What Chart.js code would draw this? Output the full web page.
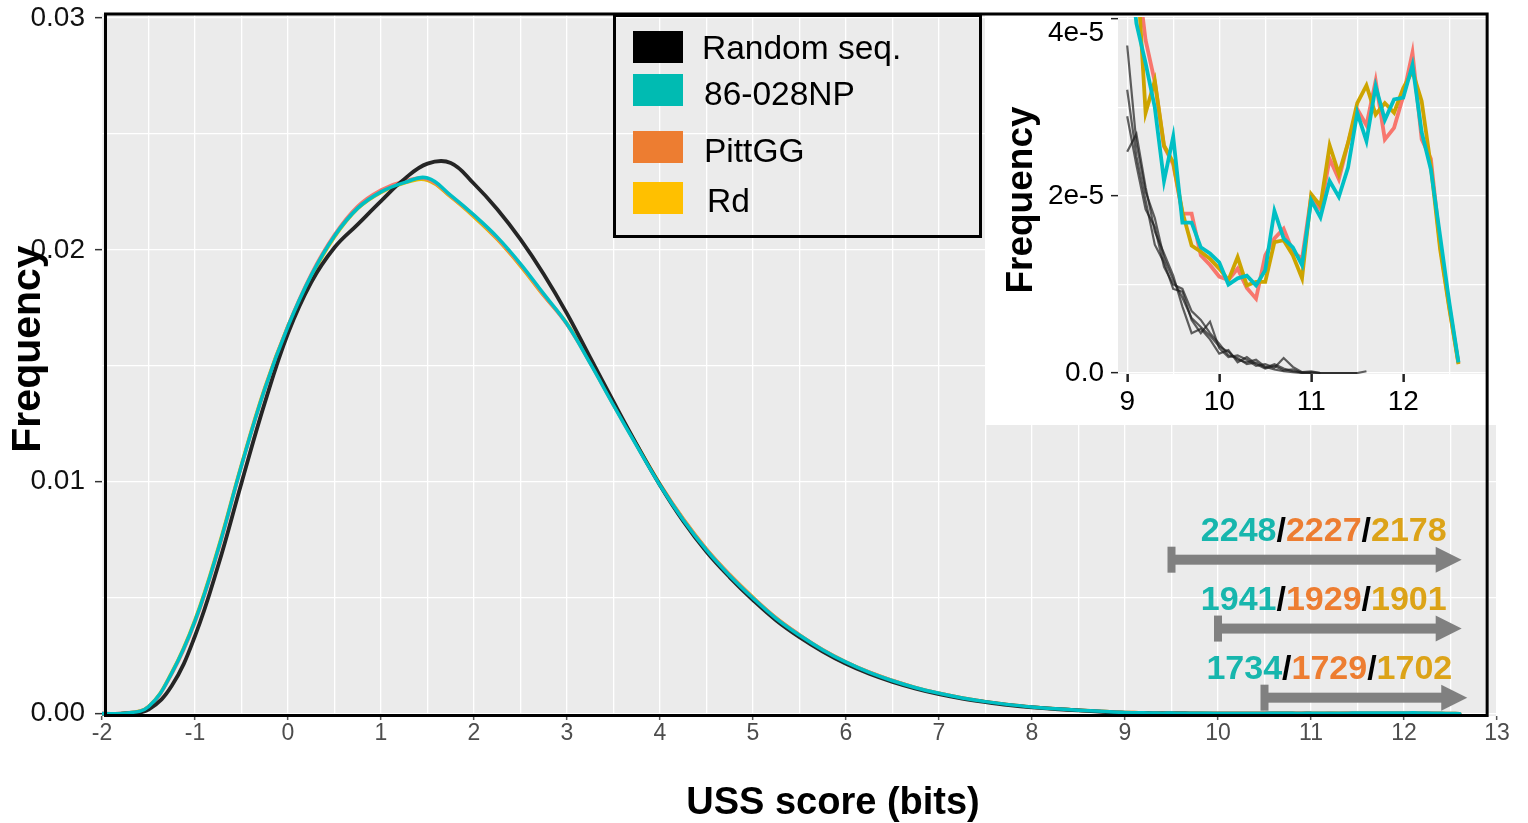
<!DOCTYPE html>
<html>
<head>
<meta charset="utf-8">
<script src="https://cdn.jsdelivr.net/npm/chart.js@4.4.1/dist/chart.umd.min.js"></script>
<style>
  html, body { margin: 0; padding: 0; background: #ffffff; }
  #wrap { position: relative; width: 1528px; height: 823px; overflow: hidden; }
  #main { position: absolute; left: 0; top: 0; }
  #inset { position: absolute; left: 985px; top: 0; }
</style>
</head>
<body>
<div id="wrap">
  <canvas id="main" width="1528" height="823"></canvas>
  <canvas id="inset" width="512" height="425"></canvas>
</div>
<script>
// ---------------- data ----------------
// USS score grid for the full distribution (bits)
const SCORE_X = [-2, -1.75, -1.5, -1.25, -1, -0.75, -0.5, -0.25, 0, 0.25, 0.5, 0.75, 1, 1.25, 1.5, 1.75,
  2, 2.25, 2.5, 2.75, 3, 3.25, 3.5, 3.75, 4, 4.25, 4.5, 4.75, 5, 5.25, 5.5, 5.75, 6, 6.25, 6.5, 6.75,
  7, 7.25, 7.5, 7.75, 8, 8.25, 8.5, 8.75];

const RANDOM_FREQ = [0, 0.00001, 0.00018, 0.00120, 0.00335, 0.00640, 0.00995, 0.01340, 0.01640, 0.01860,
  0.02010, 0.02110, 0.02210, 0.02305, 0.02372, 0.02375, 0.02285, 0.02175, 0.02045, 0.01895, 0.01725,
  0.01535, 0.01345, 0.01160, 0.00985, 0.00830, 0.00698, 0.00588, 0.00490, 0.00402, 0.00330, 0.00268,
  0.00215, 0.00172, 0.00137, 0.00108, 0.00084, 0.00065, 0.00050, 0.00037, 0.00027, 0.00020, 0.00014, 0.00008];

const NP_FREQ = [0, 0.00002, 0.00030, 0.00175, 0.00400, 0.00710, 0.01070, 0.01400, 0.01670, 0.01890,
  0.02060, 0.02180, 0.02250, 0.02290, 0.02310, 0.02235, 0.02150, 0.02055, 0.01940, 0.01810, 0.01680,
  0.01510, 0.01330, 0.01155, 0.00985, 0.00835, 0.00705, 0.00595, 0.00498, 0.00410, 0.00338, 0.00275,
  0.00222, 0.00178, 0.00142, 0.00112, 0.00088, 0.00068, 0.00052, 0.00039, 0.00029, 0.00021, 0.00015, 0.00010];

const PITT_FREQ = [0, 0.00002, 0.00029, 0.00172, 0.00395, 0.00705, 0.01068, 0.01400, 0.01672, 0.01895,
  0.02065, 0.02188, 0.02258, 0.02296, 0.02305, 0.02232, 0.02148, 0.02050, 0.01935, 0.01805, 0.01678,
  0.01512, 0.01332, 0.01158, 0.00988, 0.00838, 0.00708, 0.00598, 0.00500, 0.00412, 0.00340, 0.00276,
  0.00223, 0.00179, 0.00143, 0.00112, 0.00088, 0.00068, 0.00052, 0.00039, 0.00029, 0.00021, 0.00015, 0.00010];

const RD_FREQ = [0, 0.00002, 0.00031, 0.00178, 0.00405, 0.00716, 0.01075, 0.01405, 0.01672, 0.01885,
  0.02055, 0.02178, 0.02248, 0.02288, 0.02300, 0.02228, 0.02142, 0.02045, 0.01930, 0.01802, 0.01682,
  0.01515, 0.01335, 0.01160, 0.00990, 0.00840, 0.00710, 0.00600, 0.00502, 0.00413, 0.00340, 0.00276,
  0.00223, 0.00179, 0.00143, 0.00112, 0.00088, 0.00068, 0.00052, 0.00039, 0.00029, 0.00021, 0.00015, 0.00010];

// high-score tail, 0.1-bit bins
const TAIL_X = [9.0, 9.1, 9.2, 9.3, 9.4, 9.5, 9.6, 9.7, 9.8, 9.9, 10.0, 10.1, 10.2, 10.3, 10.4, 10.5,
  10.6, 10.7, 10.8, 10.9, 11.0, 11.1, 11.2, 11.3, 11.4, 11.5, 11.6, 11.7, 11.8, 11.9, 12.0, 12.1,
  12.2, 12.3, 12.4, 12.5, 12.6];

const NP_TAIL = [4.90e-5, 3.95e-5, 3.50e-5, 3.00e-5, 2.17e-5, 2.67e-5, 1.70e-5, 1.70e-5, 1.42e-5, 1.35e-5,
  1.25e-5, 1.00e-5, 1.07e-5, 1.10e-5, 0.99e-5, 1.16e-5, 1.83e-5, 1.52e-5, 1.42e-5, 1.22e-5, 1.95e-5,
  1.76e-5, 2.17e-5, 1.99e-5, 2.32e-5, 2.94e-5, 2.62e-5, 3.24e-5, 2.86e-5, 3.09e-5, 3.11e-5, 3.48e-5,
  2.72e-5, 2.30e-5, 1.55e-5, 0.80e-5, 0.12e-5];

const PITT_TAIL = [5.60e-5, 4.60e-5, 3.76e-5, 3.29e-5, 2.56e-5, 2.36e-5, 1.80e-5, 1.80e-5, 1.33e-5, 1.22e-5,
  1.09e-5, 1.05e-5, 1.18e-5, 0.96e-5, 0.84e-5, 1.33e-5, 1.52e-5, 1.63e-5, 1.37e-5, 1.29e-5, 2.00e-5,
  1.85e-5, 2.42e-5, 2.19e-5, 2.60e-5, 2.98e-5, 2.80e-5, 3.30e-5, 2.64e-5, 2.77e-5, 3.13e-5, 3.62e-5,
  2.64e-5, 2.42e-5, 1.45e-5, 0.75e-5, 0.11e-5];

const RD_TAIL = [5.50e-5, 4.70e-5, 2.94e-5, 3.30e-5, 2.57e-5, 2.38e-5, 1.82e-5, 1.44e-5, 1.37e-5, 1.29e-5,
  1.18e-5, 1.05e-5, 1.31e-5, 0.99e-5, 1.03e-5, 1.03e-5, 1.48e-5, 1.50e-5, 1.33e-5, 1.07e-5, 2.02e-5,
  1.89e-5, 2.57e-5, 2.25e-5, 2.60e-5, 3.05e-5, 3.25e-5, 2.92e-5, 3.05e-5, 2.94e-5, 3.22e-5, 3.41e-5,
  3.07e-5, 2.34e-5, 1.40e-5, 0.73e-5, 0.10e-5];

// four random-sequence replicates in the tail
const RANDOM_TAIL_A = [3.70e-5, 2.60e-5, 2.05e-5, 1.75e-5, 1.30e-5, 1.05e-5, 0.85e-5, 0.62e-5, 0.52e-5, 0.42e-5,
  0.30e-5, 0.24e-5, 0.15e-5, 0.12e-5, 0.15e-5, 0.07e-5, 0.04e-5, 0.02e-5, 0.01e-5, 0, 0];
const RANDOM_TAIL_B = [3.20e-5, 2.45e-5, 1.95e-5, 1.45e-5, 1.25e-5, 0.95e-5, 0.92e-5, 0.60e-5, 0.45e-5, 0.58e-5,
  0.28e-5, 0.18e-5, 0.20e-5, 0.15e-5, 0.08e-5, 0.10e-5, 0.06e-5, 0.17e-5, 0.07e-5, 0.01e-5, 0.02e-5, 0];
const RANDOM_TAIL_C = [2.50e-5, 2.70e-5, 2.10e-5, 1.60e-5, 1.35e-5, 1.10e-5, 0.75e-5, 0.45e-5, 0.50e-5, 0.38e-5,
  0.22e-5, 0.26e-5, 0.12e-5, 0.18e-5, 0.10e-5, 0.05e-5, 0.08e-5, 0.03e-5, 0.04e-5, 0, 0.01e-5, 0, 0, 0, 0, 0];
const RANDOM_TAIL_D = [2.90e-5, 2.35e-5, 1.85e-5, 1.65e-5, 1.20e-5, 1.00e-5, 0.95e-5, 0.70e-5, 0.60e-5, 0.45e-5,
  0.33e-5, 0.20e-5, 0.17e-5, 0.10e-5, 0.12e-5, 0.06e-5, 0.10e-5, 0.05e-5, 0.02e-5, 0.01e-5, 0, 0, 0, 0, 0, 0, 0.02e-5];

// high-scoring site counts (86-028NP / PittGG / Rd) above each score cut-off
const CUTOFF_SCORE = [9.5, 10.0, 10.5];
const NP_COUNTS = [2248, 1941, 1734];
const PITT_COUNTS = [2227, 1929, 1729];
const RD_COUNTS = [2178, 1901, 1702];

// axes
const X_GRID = [-2, -1.5, -1, -0.5, 0, 0.5, 1, 1.5, 2, 2.5, 3, 3.5, 4, 4.5, 5, 5.5, 6, 6.5, 7, 7.5, 8, 8.5,
  9, 9.5, 10, 10.5, 11, 11.5, 12, 12.5, 13];
const X_TICKS = [-2, -1, 0, 1, 2, 3, 4, 5, 6, 7, 8, 9, 10, 11, 12, 13];
const Y_GRID = [0, 0.005, 0.01, 0.015, 0.02, 0.025, 0.03];
const Y_TICKS = [0, 0.01, 0.02, 0.03];
const Y_TICK_LABELS = ['0.00', '0.01', '0.02', '0.03'];

const INSET_X_GRID = [9, 9.5, 10, 10.5, 11, 11.5, 12, 12.5];
const INSET_X_TICKS = [9, 10, 11, 12];
const INSET_Y_GRID = [0, 1e-5, 2e-5, 3e-5, 4e-5];
const INSET_Y_TICKS = [0, 2e-5, 4e-5];
const INSET_Y_TICK_LABELS = ['0.0', '2e-5', '4e-5'];

const LEGEND_LABELS = ['Random seq.', '86-028NP', 'PittGG', 'Rd'];
const LEGEND_COLORS = ['#000000', '#00BBB2', '#ED7D31', '#FFC000'];

// ---------------- styles ----------------
const FONT = "'Liberation Sans', Arial, Helvetica, sans-serif";
Chart.defaults.font.family = FONT;
const PANEL = '#EBEBEB';
const TEAL = '#00BFC4';
const SALMON = '#F8766D';
const GOLD = '#CDA400';
const ARROW_GREY = '#808080';
const COUNT_COLORS = ['#17B6AD', '#ED7D31', '#DCA318'];

const pts = (xs, ys) => ys.map((y, i) => ({ x: xs[i], y: y }));
const fullSeries = (core, tail) => pts(SCORE_X, core).concat(pts(TAIL_X, tail));

// ---------------- main chart ----------------
const mainDecor = {
  id: 'mainDecor',
  beforeDraw(chart) {
    const { ctx, chartArea: a } = chart;
    ctx.save();
    ctx.fillStyle = '#ffffff';
    ctx.fillRect(0, 0, chart.width, chart.height);
    ctx.fillStyle = PANEL;
    ctx.fillRect(a.left, a.top, a.right - a.left, a.bottom - a.top);
    ctx.restore();
  },
  afterDatasetsDraw(chart) {
    const { ctx, chartArea: a, scales: { x, y } } = chart;
    ctx.save();

    // cut-off arrows with counts
    const tips = [12.62, 12.62, 12.68];
    const rows = [0.00664, 0.00367, 0.00069];
    CUTOFF_SCORE.forEach((s, i) => {
      const x0 = x.getPixelForValue(s);
      const x1 = x.getPixelForValue(tips[i]);
      const yy = y.getPixelForValue(rows[i]);
      ctx.fillStyle = ARROW_GREY;
      ctx.fillRect(x0 - 4, yy - 13, 8, 26);
      ctx.fillRect(x0, yy - 5, x1 - 25 - x0, 10);
      ctx.beginPath();
      ctx.moveTo(x1 - 26, yy - 13);
      ctx.lineTo(x1, yy);
      ctx.lineTo(x1 - 26, yy + 13);
      ctx.closePath();
      ctx.fill();

      const parts = [
        [String(NP_COUNTS[i]), COUNT_COLORS[0]], ['/', '#000000'],
        [String(PITT_COUNTS[i]), COUNT_COLORS[1]], ['/', '#000000'],
        [String(RD_COUNTS[i]), COUNT_COLORS[2]]
      ];
      ctx.font = 'bold 34px ' + FONT;
      ctx.textBaseline = 'alphabetic';
      ctx.textAlign = 'left';
      const total = parts.reduce((w, p) => w + ctx.measureText(p[0]).width, 0);
      let tx = x1 - 15 - total;
      const base = yy - 31 + 12;
      parts.forEach(p => {
        ctx.fillStyle = p[1];
        ctx.fillText(p[0], tx, base);
        tx += ctx.measureText(p[0]).width;
      });
    });

    // legend box
    ctx.lineWidth = 3;
    ctx.strokeStyle = '#000000';
    ctx.strokeRect(614.5, 15.5, 366, 221);
    const swTop = [31, 74, 131, 182];
    const txX = [702, 704, 704, 707];
    const txBase = [59, 105, 162, 212];
    ctx.font = '33.5px ' + FONT;
    LEGEND_LABELS.forEach((lab, i) => {
      ctx.fillStyle = LEGEND_COLORS[i];
      ctx.fillRect(633, swTop[i], 50, 32);
      ctx.fillStyle = '#000000';
      ctx.fillText(lab, txX[i], txBase[i]);
    });

    // panel frame
    ctx.lineWidth = 3;
    ctx.strokeStyle = '#000000';
    const fl = a.left + 3.5, fr = x.getPixelForValue(12.894), ft = a.top, fb = a.bottom - 0.5;
    ctx.strokeRect(fl, ft, fr - fl, fb - ft);
    chart.$frame = { left: fl, right: fr, top: ft, bottom: fb };

    // axis titles
    ctx.fillStyle = '#000000';
    ctx.font = 'bold 38px ' + FONT;
    ctx.textAlign = 'center';
    ctx.fillText('USS score (bits)', 833, 814);
    ctx.translate(40, 349);
    ctx.rotate(-Math.PI / 2);
    ctx.font = 'bold 41px ' + FONT;
    ctx.fillText('Frequency', 0, 0);
    ctx.restore();
  }
};

const mainChart = new Chart(document.getElementById('main'), {
  type: 'line',
  data: {
    datasets: [
      { label: '86-028NP', data: fullSeries(NP_FREQ, NP_TAIL), borderColor: TEAL, borderWidth: 3.5 },
      { label: 'Random seq.', data: fullSeries(RANDOM_FREQ, RANDOM_TAIL_A), borderColor: 'rgba(20,20,20,0.92)', borderWidth: 3.8 },
      { label: 'PittGG', data: fullSeries(PITT_FREQ, PITT_TAIL), borderColor: SALMON, borderWidth: 3.5 },
      { label: 'Rd', data: fullSeries(RD_FREQ, RD_TAIL), borderColor: '#E2BC00', borderWidth: 3.5 }
    ]
  },
  options: {
    responsive: false,
    animation: false,
    events: [],
    layout: { padding: { top: 14, right: 31, left: 0, bottom: 0 } },
    plugins: { legend: { display: false }, tooltip: { enabled: false } },
    elements: {
      point: { radius: 0 },
      line: { tension: 0.4, borderJoinStyle: 'round', borderCapStyle: 'round', fill: false }
    },
    scales: {
      x: {
        type: 'linear', min: -2, max: 13,
        afterBuildTicks: s => { s.ticks = X_GRID.map(v => ({ value: v })); },
        afterFit: s => { s.height = 107; s.paddingLeft = 0; s.paddingRight = 0; },
        border: { display: false },
        grid: {
          color: '#FFFFFF', lineWidth: 1.3, tickLength: 4, tickWidth: 1.5,
          tickColor: c => (X_TICKS.includes(c.tick.value) ? '#555555' : 'rgba(0,0,0,0)')
        },
        ticks: {
          autoSkip: false, maxRotation: 0, minRotation: 0, padding: 0,
          color: '#4D4D4D', font: { size: 23 },
          callback: v => (X_TICKS.includes(v) ? String(v) : '')
        }
      },
      y: {
        type: 'linear', min: -0.0001, max: 0.03017,
        afterBuildTicks: s => { s.ticks = Y_GRID.map(v => ({ value: v })); },
        afterFit: s => { s.width = 102; s.paddingTop = 0; s.paddingBottom = 0; },
        border: { display: false },
        grid: {
          color: '#FFFFFF', lineWidth: 1.3, tickLength: 7, tickWidth: 1.5,
          tickColor: c => (Y_TICKS.includes(c.tick.value) ? '#333333' : 'rgba(0,0,0,0)')
        },
        ticks: {
          padding: 10, color: '#111111', font: { size: 28 },
          callback: v => { const k = Y_TICKS.indexOf(v); return k >= 0 ? Y_TICK_LABELS[k] : ''; }
        }
      }
    }
  },
  plugins: [mainDecor]
});

// ---------------- inset: high-score tail ----------------
const INSET_LEFT = 985;
const insetDecor = {
  id: 'insetDecor',
  beforeDraw(chart) {
    const { ctx, chartArea: a } = chart;
    ctx.save();
    ctx.fillStyle = '#ffffff';
    ctx.fillRect(0, 0, chart.width, chart.height);
    ctx.fillStyle = PANEL;
    ctx.fillRect(a.left, a.top, a.right - a.left, a.bottom - a.top);
    ctx.restore();
  },
  afterDraw(chart) {
    const { ctx } = chart;
    ctx.save();
    ctx.fillStyle = '#000000';
    ctx.font = 'bold 37px ' + FONT;
    ctx.textAlign = 'center';
    ctx.textBaseline = 'alphabetic';
    ctx.translate(47, 200);
    ctx.rotate(-Math.PI / 2);
    ctx.fillText('Frequency', 0, 0);
    ctx.restore();

    // outer panel frame passes over the inset
    const f = mainChart.$frame;
    if (f) {
      ctx.save();
      ctx.lineWidth = 3;
      ctx.strokeStyle = '#000000';
      ctx.beginPath();
      ctx.moveTo(0, f.top);
      ctx.lineTo(f.right - INSET_LEFT, f.top);
      ctx.lineTo(f.right - INSET_LEFT, chart.height);
      ctx.stroke();
      ctx.restore();
    }
  }
};

const greyLine = { borderColor: 'rgba(30,30,30,0.7)', borderWidth: 2.2 };
new Chart(document.getElementById('inset'), {
  type: 'line',
  data: {
    datasets: [
      { label: '86-028NP', data: pts(TAIL_X, NP_TAIL), borderColor: TEAL, borderWidth: 3.8 },
      { label: 'Rd', data: pts(TAIL_X, RD_TAIL), borderColor: GOLD, borderWidth: 3.8 },
      { label: 'PittGG', data: pts(TAIL_X, PITT_TAIL), borderColor: SALMON, borderWidth: 3.8 },
      Object.assign({ label: 'Random seq. 1', data: pts(TAIL_X, RANDOM_TAIL_A) }, greyLine),
      Object.assign({ label: 'Random seq. 2', data: pts(TAIL_X, RANDOM_TAIL_B) }, greyLine),
      Object.assign({ label: 'Random seq. 3', data: pts(TAIL_X, RANDOM_TAIL_C) }, greyLine),
      Object.assign({ label: 'Random seq. 4', data: pts(TAIL_X, RANDOM_TAIL_D) }, greyLine)
    ]
  },
  options: {
    responsive: false,
    animation: false,
    events: [],
    layout: { padding: { top: 17, right: 10, left: 0, bottom: 0 } },
    plugins: { legend: { display: false }, tooltip: { enabled: false } },
    elements: {
      point: { radius: 0 },
      line: { tension: 0, borderJoinStyle: 'miter', fill: false }
    },
    scales: {
      x: {
        type: 'linear', min: 8.9, max: 12.91,
        afterBuildTicks: s => { s.ticks = INSET_X_GRID.map(v => ({ value: v })); },
        afterFit: s => { s.height = 51; s.paddingLeft = 0; s.paddingRight = 0; },
        border: { display: false },
        grid: {
          color: '#FFFFFF', lineWidth: 1.3, tickLength: 8, tickWidth: 2.5,
          tickColor: c => (INSET_X_TICKS.includes(c.tick.value) ? '#222222' : 'rgba(0,0,0,0)')
        },
        ticks: {
          autoSkip: false, maxRotation: 0, minRotation: 0, padding: 3,
          color: '#000000', font: { size: 28 },
          callback: v => (INSET_X_TICKS.includes(v) ? String(v) : '')
        }
      },
      y: {
        type: 'linear', min: -0.011e-5, max: 4.022e-5,
        afterBuildTicks: s => { s.ticks = INSET_Y_GRID.map(v => ({ value: v })); },
        afterFit: s => { s.width = 133; s.paddingTop = 0; s.paddingBottom = 0; },
        border: { display: false },
        grid: {
          color: '#FFFFFF', lineWidth: 1.3, tickLength: 7, tickWidth: 1.5,
          tickColor: c => (INSET_Y_TICKS.includes(c.tick.value) ? '#222222' : 'rgba(0,0,0,0)')
        },
        ticks: {
          padding: 7, color: '#000000', font: { size: 28, lineHeight: 1 },
          // the top label sits one line below its tick so it clears the panel edge
          callback: (v, i, arr) => {
            const k = INSET_Y_TICKS.indexOf(v);
            if (k < 0) return '';
            return i === arr.length - 1 ? ['', INSET_Y_TICK_LABELS[k]] : INSET_Y_TICK_LABELS[k];
          }
        }
      }
    }
  },
  plugins: [insetDecor]
});
</script>
</body>
</html>
